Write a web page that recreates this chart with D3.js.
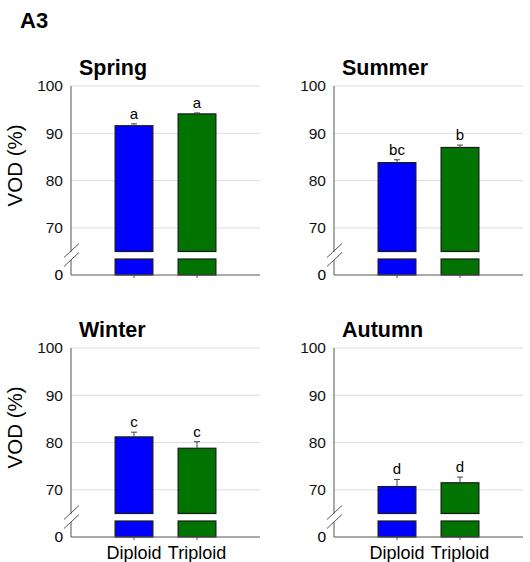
<!DOCTYPE html>
<html>
<head>
<meta charset="utf-8">
<script src="https://cdn.jsdelivr.net/npm/d3@7"></script>
<style>
  body { margin: 0; background: #fff; }
  svg { display: block; font-family: 'Liberation Sans', Arial, Helvetica, sans-serif; }
</style>
</head>
<body>
<svg id="chart" width="530" height="562"></svg>
<script>
// Data
const seasons = ['Spring', 'Summer', 'Winter', 'Autumn'];
const ploidy = ['Diploid', 'Triploid'];
const diploidMean = [91.6, 83.8, 81.2, 70.7];
const triploidMean = [94.1, 87.0, 78.8, 71.5];
const diploidErr = [0.4, 0.6, 1.0, 1.5];
const triploidErr = [0.2, 0.5, 1.4, 1.2];
const diploidLetters = ['a', 'bc', 'c', 'd'];
const triploidLetters = ['a', 'b', 'c', 'd'];
const yTicks = [70, 80, 90, 100];
const colors = ['#0000ff', '#007300'];

const svg = d3.select('#chart');

// panel layout
const pw = 189, ph = 189;
const origins = [[71, 86], [334, 86], [71, 348], [334, 348]];
const breakLow = 65; // value where upper segment starts

const x = d3.scaleBand().domain(ploidy).range([0, pw]).paddingInner(0.4).paddingOuter(0.7);
const y = d3.scaleLinear().domain([breakLow, 100]).range([ph - 23.5, 0]);
const yLow = d3.scaleLinear().domain([0, 1]).range([ph, ph - 16]);

svg.append('text')
  .attr('x', 20).attr('y', 28)
  .style('font-size', '22px').style('font-weight', 'bold')
  .text('A3');

seasons.forEach((season, i) => {
  const [ox, oy] = origins[i];
  const g = svg.append('g').attr('transform', `translate(${ox},${oy})`);
  const rows = ploidy.map((p, j) => ({
    name: p,
    mean: j === 0 ? diploidMean[i] : triploidMean[i],
    err: j === 0 ? diploidErr[i] : triploidErr[i],
    letter: j === 0 ? diploidLetters[i] : triploidLetters[i],
    color: colors[j]
  }));

  // gridlines
  g.selectAll('.grid')
    .data(yTicks)
    .enter()
    .append('line')
      .attr('x1', 0).attr('x2', pw)
      .attr('y1', d => y(d)).attr('y2', d => y(d))
      .attr('stroke', '#dcdcdc').attr('stroke-width', 1);

  // upper bars
  g.selectAll('.bar')
    .data(rows)
    .enter()
    .append('rect')
      .attr('x', d => x(d.name))
      .attr('y', d => y(d.mean))
      .attr('width', x.bandwidth())
      .attr('height', d => y(breakLow) - y(d.mean))
      .attr('fill', d => d.color)
      .attr('stroke', '#1a1a1a').attr('stroke-width', 1.2);

  // lower bar stubs
  g.selectAll('.stub')
    .data(rows)
    .enter()
    .append('rect')
      .attr('x', d => x(d.name))
      .attr('y', yLow(1))
      .attr('width', x.bandwidth())
      .attr('height', yLow(0) - yLow(1))
      .attr('fill', d => d.color)
      .attr('stroke', '#1a1a1a').attr('stroke-width', 1.2);

  // error bars
  const eb = g.selectAll('.err').data(rows).enter().append('g');
  eb.append('line')
    .attr('x1', d => x(d.name) + x.bandwidth() / 2)
    .attr('x2', d => x(d.name) + x.bandwidth() / 2)
    .attr('y1', d => y(d.mean)).attr('y2', d => y(d.mean + d.err))
    .attr('stroke', '#444').attr('stroke-width', 1);
  eb.append('line')
    .attr('x1', d => x(d.name) + x.bandwidth() / 2 - 3)
    .attr('x2', d => x(d.name) + x.bandwidth() / 2 + 3)
    .attr('y1', d => y(d.mean + d.err)).attr('y2', d => y(d.mean + d.err))
    .attr('stroke', '#444').attr('stroke-width', 1);

  // significance letters
  g.selectAll('.letter')
    .data(rows)
    .enter()
    .append('text')
      .attr('x', d => x(d.name) + x.bandwidth() / 2)
      .attr('y', d => y(d.mean + d.err) - 5)
      .attr('text-anchor', 'middle')
      .style('font-size', '15px')
      .text(d => d.letter);

  // y axis (broken)
  g.append('line')
    .attr('x1', 0).attr('x2', 0)
    .attr('y1', y(100)).attr('y2', y(breakLow) + 0.5)
    .attr('stroke', '#555');
  g.append('line')
    .attr('x1', 0).attr('x2', 0)
    .attr('y1', yLow(1) + 1).attr('y2', yLow(0))
    .attr('stroke', '#555');
  [y(breakLow) - 1, yLow(1) + 0.5].forEach(cy => {
    g.append('line')
      .attr('x1', -7).attr('y1', cy + 7)
      .attr('x2', 8).attr('y2', cy - 7)
      .attr('stroke', '#555');
  });

  // y tick labels
  g.selectAll('.ytick')
    .data(yTicks)
    .enter()
    .append('text')
      .attr('x', -8)
      .attr('y', d => y(d))
      .attr('dy', '0.35em')
      .attr('text-anchor', 'end')
      .style('font-size', '15.5px')
      .style('fill', '#111')
      .text(d => d);
  g.append('text')
    .attr('x', -8).attr('y', yLow(0)).attr('dy', '0.35em')
    .attr('text-anchor', 'end')
    .style('font-size', '15.5px')
    .text('0');

  // x axis
  g.append('line')
    .attr('x1', 0).attr('x2', pw)
    .attr('y1', ph).attr('y2', ph)
    .attr('stroke', '#555');
  g.selectAll('.xtick')
    .data(ploidy)
    .enter()
    .append('line')
      .attr('x1', d => x(d) + x.bandwidth() / 2)
      .attr('x2', d => x(d) + x.bandwidth() / 2)
      .attr('y1', ph).attr('y2', ph + 3)
      .attr('stroke', '#555');

  if (i >= 2) {
    g.selectAll('.xlabel')
      .data(ploidy)
      .enter()
      .append('text')
        .attr('x', d => x(d) + x.bandwidth() / 2)
        .attr('y', ph + 22)
        .attr('text-anchor', 'middle')
        .style('font-size', '18px')
        .text(d => d);
  }

  // panel title
  g.append('text')
    .attr('x', 8).attr('y', -11)
    .style('font-size', '21.5px').style('font-weight', 'bold')
    .text(season);

  // y axis title on left column
  if (i % 2 === 0) {
    g.append('text')
      .attr('transform', 'rotate(-90)')
      .attr('x', -ph * 0.42)
      .attr('y', -49)
      .attr('text-anchor', 'middle')
      .style('font-size', '20.5px')
      .text('VOD (%)');
  }
});
</script>
</body>
</html>
